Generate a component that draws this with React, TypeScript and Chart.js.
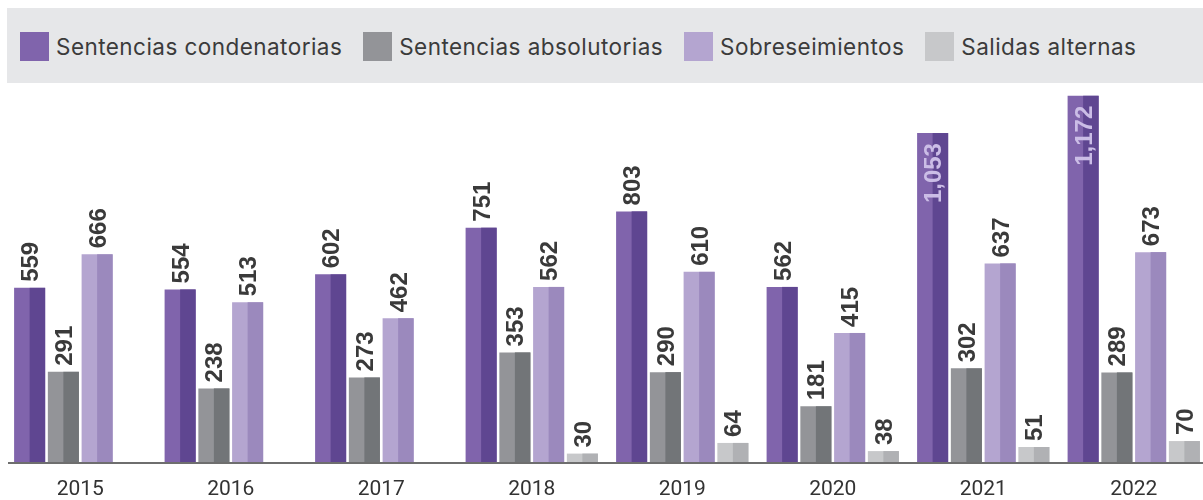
import React, { useEffect, useRef } from "react";
import { Chart, registerables } from "chart.js";

Chart.register(...registerables);

const years = ["2015", "2016", "2017", "2018", "2019", "2020", "2021", "2022"];
const condenatorias = [559, 554, 602, 751, 803, 562, 1053, 1172];
const absolutorias = [291, 238, 273, 353, 290, 181, 302, 289];
const sobreseimientos = [666, 513, 462, 562, 610, 415, 637, 673];
const salidasAlternas = [null, null, null, 30, 64, 38, 51, 70];
const seriesNames = [
  "Sentencias condenatorias",
  "Sentencias absolutorias",
  "Sobreseimientos",
  "Salidas alternas",
];
const lightColors = ["#8064AC", "#939498", "#B4A5D0", "#C7C8CA"];
const darkColors = ["#5F4691", "#727578", "#9B89BD", "#B0B1B4"];

const twoTonePlugin = {
  id: "twoTone",
  afterDatasetsDraw(chart: any) {
    const ctx = chart.ctx;
    chart.data.datasets.forEach((ds: any, i: number) => {
      const meta = chart.getDatasetMeta(i);
      meta.data.forEach((el: any, j: number) => {
        const v = ds.data[j];
        if (v === null || v === undefined) return;
        const { x, y, base, width } = el.getProps(["x", "y", "base", "width"], true);
        ctx.save();
        ctx.fillStyle = darkColors[i];
        ctx.fillRect(x, y, width / 2, base - y);
        ctx.restore();
      });
    });
    // baseline
    const y0 = chart.scales.y.getPixelForValue(0);
    ctx.save();
    ctx.strokeStyle = "#6E6E6E";
    ctx.lineWidth = 2;
    ctx.beginPath();
    ctx.moveTo(8, y0);
    ctx.lineTo(chart.width, y0);
    ctx.stroke();
    ctx.restore();
    // value labels
    chart.data.datasets.forEach((ds: any, i: number) => {
      const meta = chart.getDatasetMeta(i);
      meta.data.forEach((el: any, j: number) => {
        const v = ds.data[j];
        if (v === null || v === undefined) return;
        const { x, y } = el.getProps(["x", "y"], true);
        const txt = v.toLocaleString("en-US");
        ctx.save();
        ctx.font = "bold 24px 'Liberation Sans', Arial, sans-serif";
        ctx.textBaseline = "alphabetic";
        if (v >= 1000) {
          ctx.translate(x, y + 10);
          ctx.rotate(-Math.PI / 2);
          ctx.textAlign = "right";
          ctx.fillStyle = "#CBBDE6";
        } else {
          ctx.translate(x, y - 6);
          ctx.rotate(-Math.PI / 2);
          ctx.textAlign = "left";
          ctx.fillStyle = "#3A3A3A";
        }
        ctx.fillText(txt, 0, 8.5);
        ctx.restore();
      });
    });
  },
};

export default function App() {
  const canvasRef = useRef<HTMLCanvasElement>(null);

  useEffect(() => {
    if (!canvasRef.current) return;
    const seriesData = [condenatorias, absolutorias, sobreseimientos, salidasAlternas];
    const chart = new Chart(canvasRef.current, {
      type: "bar",
      data: {
        labels: years,
        datasets: seriesData.map((d, i) => ({
          label: seriesNames[i],
          data: d,
          backgroundColor: lightColors[i],
          borderWidth: 0,
          categoryPercentage: 0.897,
          barPercentage: 0.92,
        })),
      },
      options: {
        animation: false,
        responsive: false,
        maintainAspectRatio: false,
        layout: { padding: { top: 87, left: 5, right: 2, bottom: 0 } },
        plugins: {
          legend: { display: false },
          tooltip: { enabled: false },
        },
        scales: {
          x: {
            grid: { display: false, drawTicks: false },
            border: { display: false },
            ticks: {
              color: "#333333",
              font: { family: "Roboto", size: 21 },
              padding: 14,
              maxRotation: 0,
              autoSkip: false,
            },
            afterFit: (scale: any) => {
              scale.height = 37;
            },
          },
          y: {
            display: false,
            min: 0,
            max: 1200,
          },
        },
      },
      plugins: [twoTonePlugin],
    });
    return () => chart.destroy();
  }, []);

  const items = seriesNames.map((name, i) => (
    <div key={name} style={{ display: "flex", alignItems: "center", marginRight: 21 }}>
      <div style={{ width: 29, height: 29, background: lightColors[i], marginRight: 7, flex: "none" }} />
      <span
        style={{
          fontFamily: "Inter",
          fontSize: 22.5,
          letterSpacing: "0.45px",
          color: "#3B3B3B",
          whiteSpace: "nowrap",
          lineHeight: "29px",
        }}
      >
        {name}
      </span>
    </div>
  ));

  return (
    <div style={{ position: "fixed", left: 0, top: 0, width: 1203, height: 500, overflow: "hidden", background: "#ffffff" }}>
      <canvas ref={canvasRef} width={1211} height={500} style={{ position: "absolute", left: 0, top: 0, width: 1211, height: 500 }} />
      <div
        style={{
          position: "absolute",
          left: 7,
          top: 8,
          width: 1196,
          height: 75,
          background: "#E6E7E9",
          display: "flex",
          alignItems: "flex-start",
          paddingLeft: 13,
          paddingTop: 24,
          boxSizing: "border-box",
        }}
      >
        {items}
      </div>
    </div>
  );
}
